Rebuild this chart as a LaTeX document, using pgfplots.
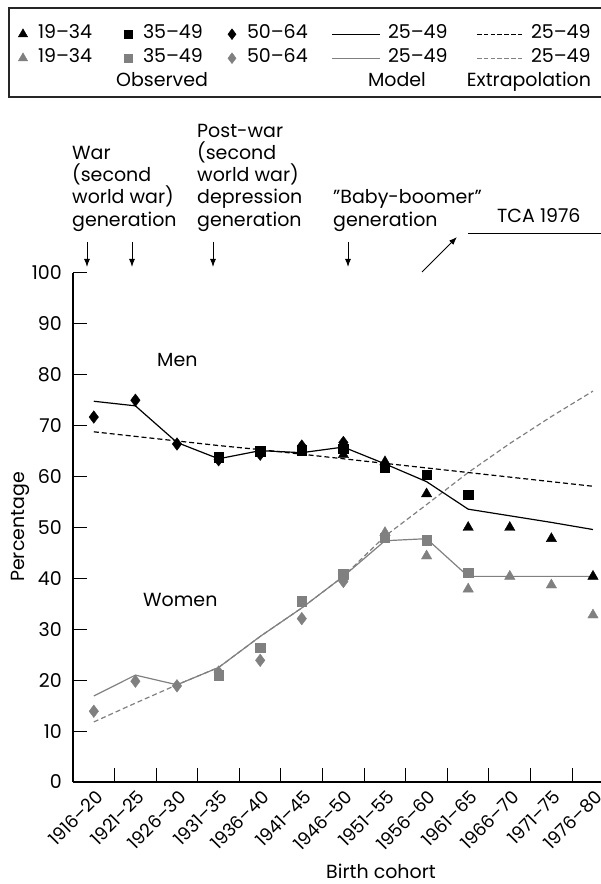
\documentclass[border=0pt]{standalone}
\usepackage{fontspec}
\setmainfont{Poppins}
\usepackage{pgfplots}
\usepackage{pgfplotstable}
\pgfplotsset{compat=1.18}
\usetikzlibrary{arrows.meta}
\definecolor{gr}{RGB}{128,128,128}
\newcommand{\ff}{\fontsize{19bp}{22.2bp}\selectfont}
\newcommand{\tf}{\fontsize{18bp}{21bp}\selectfont}

% model / extrapolation (x = cohort index 0..12)
\pgfplotstableread{
x mm me wm we
0 74.8 68.8 16.9 11.8
1 73.9 67.9 21.0 15.5
2 66.7 67.0 19.1 19.1
3 63.5 66.1 22.5 22.5
4 65.1 65.3 28.6 28.6
5 64.7 64.4 34.2 34.2
6 65.8 63.5 40.4 40.4
7 62.5 62.6 47.4 48.3
8 59.0 61.7 47.8 54.5
9 53.6 60.8 40.4 60.8
10 52.3 59.9 40.4 66.5
11 51.0 59.0 40.4 71.8
12 49.6 58.1 40.4 76.8
}\lines

% observed, men
\pgfplotstableread{
x y
6 64.3
7 62.9
8 56.6
9 50.0
10 50.0
11 47.8
12 40.4
}\mtri
\pgfplotstableread{
x y
3 63.8
4 65.0
5 65.2
6 65.5
7 61.8
8 60.4
9 56.5
}\msq
\pgfplotstableread{
x y
0 71.7
1 75.0
2 66.4
3 63.3
4 64.4
5 66.0
6 66.7
}\mdia
% observed, women
\pgfplotstableread{
x y
6 40.3
7 49.0
8 44.4
9 37.9
10 40.4
11 38.7
12 32.8
}\wtri
\pgfplotstableread{
x y
3 21.0
4 26.4
5 35.5
6 40.9
7 48.0
8 47.5
9 41.1
}\wsq
\pgfplotstableread{
x y
0 13.9
1 19.8
2 18.9
3 21.6
4 23.9
5 32.1
6 39.4
}\wdia

\pgfplotsset{
 legmark/.style={legend image code/.code={\path[draw=none,fill=none] (-10bp,-5bp) rectangle (15bp,5bp); \draw[##1] plot coordinates {(0bp,0bp)};}},
 leglineA/.style={legend image code/.code={\path[draw=none,fill=none] (-2bp,-5bp) rectangle (56bp,5bp); \draw[##1] (0bp,0bp) -- (48bp,0bp);}},
 leglineB/.style={legend image code/.code={\path[draw=none,fill=none] (-2bp,-5bp) rectangle (54bp,5bp); \draw[##1] (0bp,0bp) -- (47bp,0bp);}},
}

\begin{document}
\begin{tikzpicture}[font=\ff]
\path[use as bounding box] (0,0) rectangle (601bp,884bp);
\begin{axis}[
 at={(73bp,102bp)}, anchor=south west,
 scale only axis, width=528.3bp, height=509bp,
 xmin=-0.5, xmax=12.2, ymin=0, ymax=100,
 axis x line=bottom, axis y line=left,
 axis line style={-, line width=1.1bp, black},
 clip=false,
 tick align=inside,
 xtick={0,...,12},
 xticklabels={1916--20,1921--25,1926--30,1931--35,1936--40,1941--45,1946--50,1951--55,1956--60,1961--65,1966--70,1971--75,1976--80},
 major x tick style={draw=none},
 minor xtick={-0.5,0.5,...,11.5},
 minor tick length=14bp,
 minor x tick style={black, line width=1bp},
 ytick={0,10,...,100},
 major tick length=14bp,
 major y tick style={black, line width=1bp},
 /pgf/number format/assume math mode=true,
 tick label style={font=\ff},
 xticklabel style={font=\tf, xshift=1bp, yshift=-7bp, rotate=45, anchor=north east, inner sep=0bp},
 yticklabel style={anchor=east, inner sep=0bp, xshift=-11bp},
 legend columns=5,
 legend cell align=left,
 legend style={at={(-0.11357,1.4878)}, anchor=north west, draw=none, fill=none,
   inner sep=0bp, outer sep=0bp, column sep=0bp, row sep=5bp, font=\ff,
   nodes={inner sep=0bp, text height=14bp, text depth=5bp}},
]
% model and extrapolation lines
\addplot[gr, line width=1.2bp, dash pattern=on 5bp off 3bp, forget plot] table[x=x,y=we]{\lines};
\addplot[gr, line width=1.2bp, forget plot] table[x=x,y=wm]{\lines};
\addplot[black, line width=1.2bp, dash pattern=on 5bp off 3bp, forget plot] table[x=x,y=me]{\lines};
\addplot[black, line width=1.2bp, forget plot] table[x=x,y=mm]{\lines};
% observed
\addplot[only marks, mark=triangle*, mark size=6bp, gr, forget plot] table{\wtri};
\addplot[only marks, mark=square*, mark size=4.7bp, gr, forget plot] table{\wsq};
\addplot[only marks, mark=diamond*, mark size=6.3bp, gr, forget plot] table{\wdia};
\addplot[only marks, mark=triangle*, mark size=6bp, black, forget plot] table{\mtri};
\addplot[only marks, mark=square*, mark size=4.7bp, black, forget plot] table{\msq};
\addplot[only marks, mark=diamond*, mark size=6.3bp, black, forget plot] table{\mdia};

% legend
\addlegendimage{legmark, only marks, mark=triangle*, mark size=5.4bp, black}
\addlegendentry{\makebox[80bp][l]{19--34}}
\addlegendimage{legmark, only marks, mark=square*, mark size=4bp, black}
\addlegendentry{\makebox[79bp][l]{35--49}}
\addlegendimage{legmark, only marks, mark=diamond*, mark size=5.4bp, black}
\addlegendentry{\makebox[83bp][l]{50--64}}
\addlegendimage{leglineA, black, line width=1.2bp}
\addlegendentry{\makebox[87bp][l]{25--49}}
\addlegendimage{leglineB, black, line width=1.2bp, dash pattern=on 4.5bp off 2.3bp}
\addlegendentry{\makebox[70bp][l]{25--49}}
\addlegendimage{legmark, only marks, mark=triangle*, mark size=5.4bp, gr}
\addlegendentry{\makebox[80bp][l]{19--34}}
\addlegendimage{legmark, only marks, mark=square*, mark size=4bp, gr}
\addlegendentry{\makebox[79bp][l]{35--49}}
\addlegendimage{legmark, only marks, mark=diamond*, mark size=5.4bp, gr}
\addlegendentry{\makebox[83bp][l]{50--64}}
\addlegendimage{leglineA, gr, line width=1.2bp}
\addlegendentry{\makebox[87bp][l]{25--49}}
\addlegendimage{leglineB, gr, line width=1.2bp, dash pattern=on 4.5bp off 2.3bp}
\addlegendentry{\makebox[70bp][l]{25--49}}
\addlegendimage{empty legend}
\addlegendentry{\makebox[80bp][l]{}}
\addlegendimage{empty legend}
\addlegendentry{\makebox[79bp][l]{\hspace*{19bp}\makebox[0pt]{Observed}}}
\addlegendimage{empty legend}
\addlegendentry{\makebox[83bp][l]{}}
\addlegendimage{empty legend}
\addlegendentry{\makebox[87bp][l]{\hspace*{9bp}\makebox[0pt]{Model}}}
\addlegendimage{empty legend}
\addlegendentry{\makebox[70bp][l]{\hspace*{-2bp}\makebox[0pt]{Extrapolation}}}
\end{axis}

% legend frame
\draw[line width=1.2bp, black!85] (9bp,876bp) rectangle (610bp,787bp);

% axis titles
\node[rotate=90, anchor=base, inner sep=0bp] at (24bp,357bp) {Percentage};
\node[anchor=base, inner sep=0bp] at (381bp,6bp) {Birth cohort};

% group labels
\node[anchor=base west, inner sep=0bp] at (157bp,517bp) {Men};
\node[anchor=base west, inner sep=0bp] at (143bp,277bp) {Women};

% generation annotations
\begin{scope}[every node/.style={anchor=base west, inner sep=0bp}]
\node at (72bp,724bp) {War};
\node at (72bp,702bp) {(second};
\node at (72bp,680bp) {world war)};
\node at (72bp,657.5bp) {generation};
\node at (197bp,746bp) {Post-war};
\node at (197bp,724bp) {(second};
\node at (197bp,702bp) {world war)};
\node at (197bp,680bp) {depression};
\node at (197bp,657.5bp) {generation};
\node at (333bp,680bp) {\symbol{34}Baby-boomer\symbol{34}};
\node at (333bp,657.5bp) {generation};
\node at (497bp,661bp) {TCA 1976};
\end{scope}
\draw[line width=1bp] (468bp,650bp) -- (612bp,650bp);
\begin{scope}[line width=1bp, -{Latex[length=8bp,width=6bp]}]
\draw (87bp,642bp) -- (87bp,617bp);
\draw (132bp,642bp) -- (132bp,617bp);
\draw (213bp,642bp) -- (213bp,617bp);
\draw (348bp,642bp) -- (348bp,617bp);
\draw (422bp,612bp) -- (457bp,647bp);
\end{scope}
\end{tikzpicture}
\end{document}
